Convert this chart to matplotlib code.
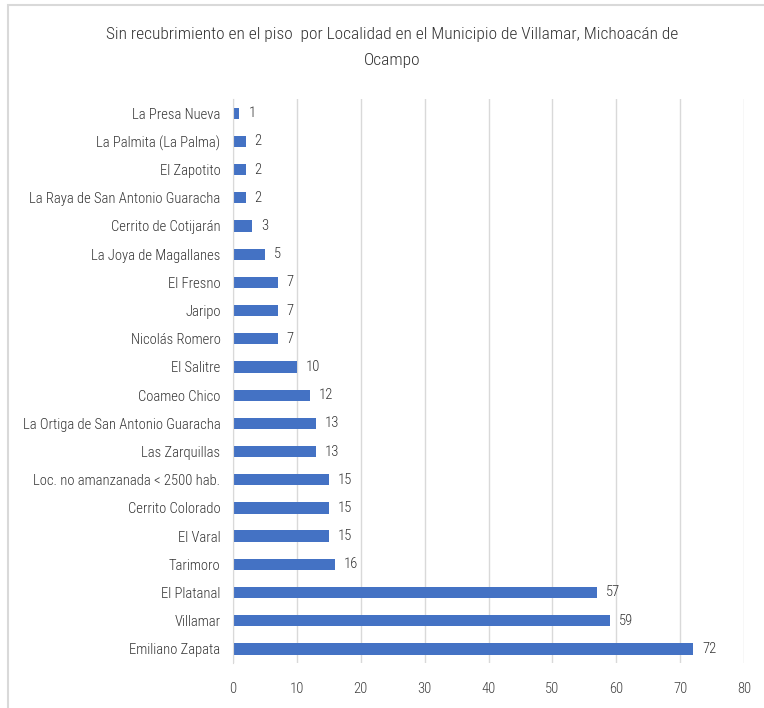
import matplotlib.pyplot as plt
from matplotlib.patches import Rectangle
from matplotlib import font_manager

localidades = ['La Presa Nueva', 'La Palmita (La Palma)', 'El Zapotito',
               'La Raya de San Antonio Guaracha', 'Cerrito de Cotijarán',
               'La Joya de Magallanes', 'El Fresno', 'Jaripo', 'Nicolás Romero',
               'El Salitre', 'Coameo Chico', 'La Ortiga de San Antonio Guaracha',
               'Las Zarquillas', 'Loc. no amanzanada < 2500 hab.',
               'Cerrito Colorado', 'El Varal', 'Tarimoro', 'El Platanal',
               'Villamar', 'Emiliano Zapata']
viviendas = [1, 2, 2, 2, 3, 5, 7, 7, 7, 10, 12, 13, 13, 15, 15, 15, 16, 57, 59, 72]
xticks = [0, 10, 20, 30, 40, 50, 60, 70, 80]

# pick a narrow face close to the Excel one
names = {f.name for f in font_manager.fontManager.ttflist}
candidates = ['Aptos Narrow', 'Liberation Sans Narrow', 'Roboto Condensed',
              'Archivo Narrow', 'PT Sans Narrow', 'Pragati Narrow',
              'Open Sans Condensed', 'Fira Sans Condensed', 'IBM Plex Sans Condensed',
              'Encode Sans Condensed', 'Barlow Semi Condensed', 'Barlow Condensed']
fam = next((c for c in candidates if c in names), 'DejaVu Sans')
plt.rcParams['font.family'] = [fam, 'DejaVu Sans']
plt.rcParams['font.weight'] = 'light' if fam == 'Roboto Condensed' else 'normal'

fig = plt.figure(figsize=(7.64, 7.08), dpi=100)
ax = fig.add_axes([0.305, 0.0636, 0.669, 0.7964])

# Excel-style frame, clipped at the right/bottom like the screenshot
fig.patches.append(Rectangle((8 / 764, -0.1), 1.2, 1 - 5 / 708 + 0.1,
                             transform=fig.transFigure, fill=False,
                             edgecolor='#d9d9d9', linewidth=1.5))

y = list(range(len(localidades)))
ax.barh(y, viviendas, height=0.4, color='#4472C4')
for yi, v in zip(y, viviendas):
    ax.text(v + 1.4, yi, str(v), va='center', ha='left', fontsize=10.5, color='#333333')

ax.set_yticks(y)
ax.set_yticklabels(localidades, fontsize=10.5, color='#333333')
ax.set_ylim(len(localidades) - 0.5, -0.5)
ax.set_xlim(0, 80)
ax.set_xticks(xticks)
ax.set_xticklabels([str(t) for t in xticks], fontsize=10.5, color='#404040')
ax.tick_params(axis='both', length=0)
ax.tick_params(axis='x', pad=14)
ax.tick_params(axis='y', pad=9)
ax.grid(axis='x', color='#d9d9d9', linewidth=1)
ax.set_axisbelow(True)
for s in ['top', 'right', 'bottom']:
    ax.spines[s].set_visible(False)
ax.spines['left'].set_color('#d9d9d9')

fig.text(0.513, 0.951, 'Sin recubrimiento en el piso  por Localidad en el Municipio de Villamar, Michoacán de',
         ha='center', va='center', fontsize=12.5, color='#333333')
fig.text(0.513, 0.914, 'Ocampo', ha='center', va='center', fontsize=12.5, color='#333333')

fig.savefig('out.png', dpi=100)
